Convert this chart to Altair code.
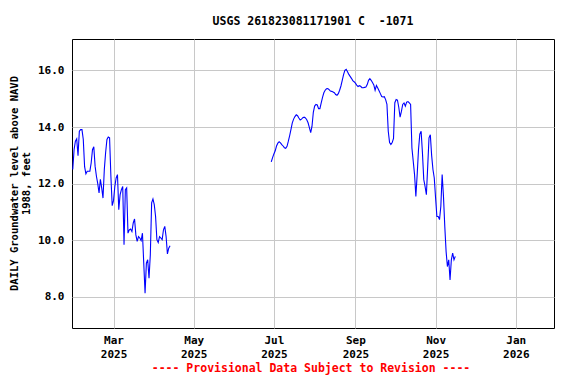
import altair as alt
import pandas as pd

# ---- data ----
seg1_start = "2025-01-29"
seg1_values = [12.5, 13.2, 13.5, 13.58, 12.99, 13.85, 13.91, 13.91, 13.56, 12.6,
               12.35, 12.44, 12.44, 12.44, 12.73, 13.2, 13.3, 12.61, 12.26, 12.0,
               11.67, 12.15, 11.85, 11.49, 12.5, 13.1, 13.56, 13.65, 13.62, 12.26,
               11.22, 11.4, 11.9, 12.2, 12.32, 11.08, 11.6, 11.79, 11.9, 9.84,
               11.79, 11.85, 10.25, 10.37, 10.4, 10.31, 10.61, 10.75, 10.19, 9.96,
               10.13, 10.08, 9.99, 10.25, 9.19, 8.13, 9.19, 9.31, 8.66, 9.49,
               11.32, 11.46, 11.26, 10.84, 10.02, 9.92, 10.13, 10.08, 10.02, 10.37,
               10.49, 10.13, 9.52, 9.72, 9.81]

seg2_start = "2025-06-29"
seg2_values = [12.77, 12.92, 13.05, 13.16, 13.33, 13.43, 13.48, 13.44, 13.38, 13.33,
               13.27, 13.25, 13.32, 13.50, 13.70, 13.92, 14.15, 14.28, 14.37, 14.43,
               14.40, 14.32, 14.25, 14.28, 14.33, 14.35, 14.32, 14.26, 14.15, 13.98,
               13.80, 14.03, 14.52, 14.74, 14.80, 14.78, 14.65, 14.65, 14.85, 15.05,
               15.21, 15.30, 15.35, 15.36, 15.32, 15.27, 15.26, 15.24, 15.21, 15.15,
               15.12, 15.18, 15.30, 15.45, 15.65, 15.85, 16.00, 16.04, 15.95, 15.86,
               15.79, 15.72, 15.64, 15.60, 15.55, 15.48, 15.43, 15.46, 15.44, 15.39,
               15.39, 15.40, 15.41, 15.50, 15.65, 15.71, 15.65, 15.57, 15.49, 15.30,
               15.47, 15.38, 15.28, 15.18, 15.08, 15.06, 15.07, 14.97, 14.80, 13.85,
               13.45, 13.38, 13.45, 13.60, 14.86, 14.97, 14.95, 14.70, 14.35, 14.55,
               14.80, 14.85, 14.74, 14.88, 14.90, 14.85, 14.80, 13.26, 12.79, 12.32,
               11.55, 12.32, 13.20, 13.75, 13.85, 13.09, 12.15, 11.90, 11.61, 12.60,
               13.62, 13.73, 13.00, 12.50, 12.20, 11.49, 10.84, 10.84, 10.73, 11.20,
               12.32, 11.55, 10.49, 9.60, 9.07, 9.31, 8.60, 9.31, 9.55, 9.31,
               9.43]

y_ticks = [8, 10, 12, 14, 16]
x_ticks = [(2025, 3), (2025, 5), (2025, 7), (2025, 9), (2025, 11), (2026, 1)]

title_text = "USGS 261823081171901 C \u00a0-1071"
y_title = ["DAILY Groundwater level above NAVD", "1988, feet"]
footer_text = "---- Provisional Data Subject to Revision ----"

rows = []
for seg, start, vals in [(1, seg1_start, seg1_values), (2, seg2_start, seg2_values)]:
    dates = pd.date_range(start, periods=len(vals), freq="D")
    for d, v in zip(dates, vals):
        rows.append({"date": d.strftime("%Y-%m-%d"), "level": v, "segment": seg})
df = pd.DataFrame(rows)

FONT = "DejaVu Sans Mono"

x_enc = alt.X(
    "date:T",
    scale=alt.Scale(
        type="utc",
        domain=[alt.DateTime(year=2025, month=1, date=28, hours=10, utc=True),
                alt.DateTime(year=2026, month=1, date=30, hours=2, utc=True)],
    ),
    axis=alt.Axis(
        values=[alt.DateTime(year=y, month=m, date=1, utc=True) for y, m in x_ticks],
        labelExpr="[utcFormat(datum.value, '%b'), utcFormat(datum.value, '%Y')]",
        title=None,
        ticks=False,
        domain=False,
        grid=True,
        labelPadding=6,
        labelLineHeight=14,
        labelBaseline="top",
    ),
)

y_enc = alt.Y(
    "level:Q",
    scale=alt.Scale(domain=[6.9, 17.11], nice=False, zero=False),
    axis=alt.Axis(
        values=y_ticks,
        format=".1f",
        title=y_title,
        ticks=False,
        domain=False,
        grid=True,
        labelPadding=8,
        titleFontSize=10.5,
        titleX=-63,
        titleY=144,
        titleAngle=-90,
        titleAlign="center",
        titleBaseline="top",
        titleLineHeight=12,
    ),
)

line = alt.Chart(df).mark_line(color="#0000ff", strokeWidth=1.1).encode(
    x=x_enc, y=y_enc, detail="segment:N"
)

footer = alt.Chart(pd.DataFrame({"t": [footer_text]})).mark_text(
    font=FONT, fontSize=11.5, fontWeight="bold", color="#ff0000",
    align="center", baseline="middle"
).encode(x=alt.value(239), y=alt.value(330), text="t:N")

chart = alt.layer(line, footer).properties(
    width=482,
    height=289,
    title=alt.TitleParams(title_text, font=FONT, fontSize=11.5, fontWeight="bold",
                          anchor="middle", offset=12, color="black"),
    autosize=alt.AutoSizeParams(type="none"),
    padding={"left": 64, "top": 31, "right": 14, "bottom": 48},
).configure_view(
    stroke="black", strokeWidth=1
).configure_axis(
    labelFont=FONT, labelFontSize=11, labelFontWeight="bold", labelColor="black",
    titleFont=FONT, titleFontWeight="bold", titleColor="black",
    gridColor="#c8c8c8", gridWidth=1,
)

chart.save("out.html", embed_options={"renderer": "svg", "actions": False})
